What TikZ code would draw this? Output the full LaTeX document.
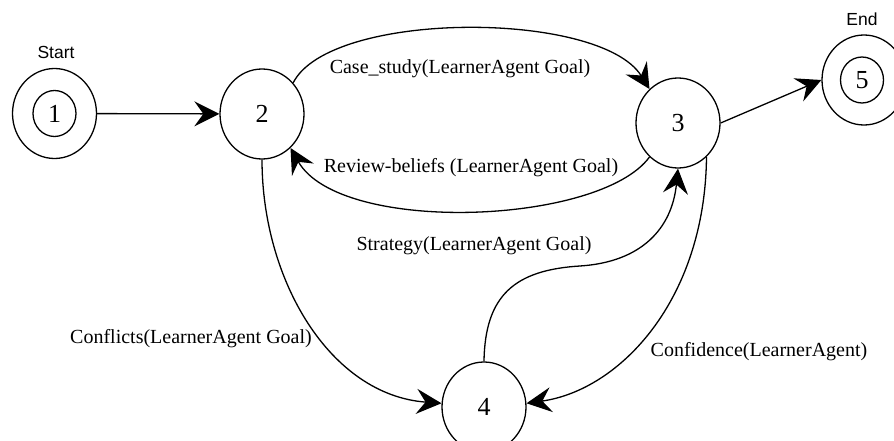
\documentclass[tikz,border=0pt]{standalone}
\usepackage{fontspec}
\setmainfont{Liberation Serif}
\newfontfamily\lsans{Liberation Sans}
\usetikzlibrary{arrows.meta,shapes.geometric}
\begin{document}
\begin{tikzpicture}[x=1pt,y=-1pt,
 state/.style={ellipse,draw,line width=1.3pt,minimum width=84pt,minimum height=90pt,inner sep=0pt,font=\fontsize{26}{30}\selectfont},
 innerst/.style={ellipse,draw,line width=1.3pt,minimum width=43pt,minimum height=46pt,inner sep=0pt,font=\fontsize{26}{30}\selectfont},
 arr/.style={line width=1.3pt,-{Stealth[length=25pt,width=25pt,inset=9pt]}},
 lbl/.style={anchor=base,font=\fontsize{20}{24}\selectfont,inner sep=0pt},
 tag/.style={anchor=base,font=\lsans\fontsize{17.5}{20}\selectfont,inner sep=0pt}]
\clip (0,0) rectangle (894,441);
% states
\node[state] (n1) at (54.5,113.5) {};
\node[innerst] (n1i) at (54.5,113.5) {1};
\node[state] (n2) at (262,114) {2};
\node[state] (n3) at (678,123) {3};
\node[state] (n4) at (484,407) {4};
\node[state] (n5) at (864,80) {};
\node[innerst] (n5i) at (862,80) {5};
% tags
\node[tag] (tStart) at (56,59) {Start};
\node[tag] (tEnd) at (862,26) {End};
% edges
\draw[arr] (n1) -- (n2);
\draw[arr] (n3.east) -- (n5.west);
\draw[arr] (n2.45) .. controls (330,10) and (600,10) .. (n3.130);
\draw[arr] (n3.230) .. controls (600,225) and (340,235) .. (n2.310);
\draw[arr] (n2.south) .. controls (262,280) and (330,395) .. (n4.175);
\draw[arr] (n3.310) .. controls (705,300) and (620,390) .. (n4.5);
\coordinate (sMid) at (580,266);
\draw[line width=1.3pt] (n4.north) .. controls (485,295) and (515,270) .. (sMid);
\draw[arr] (sMid) .. controls (642,262) and (672,228) .. (n3.south);
% labels
\node[lbl] (lCase) at (460,74) {Case\_study(LearnerAgent Goal)};
\node[lbl] (lRev) at (471,172) {Review-beliefs (LearnerAgent Goal)};
\node[lbl] (lStr) at (474,250) {Strategy(LearnerAgent Goal)};
\node[lbl] (lCon) at (191,343) {Conflicts(LearnerAgent Goal)};
\node[lbl] (lConf) at (759,356) {Confidence(LearnerAgent)};
\end{tikzpicture}
\end{document}
